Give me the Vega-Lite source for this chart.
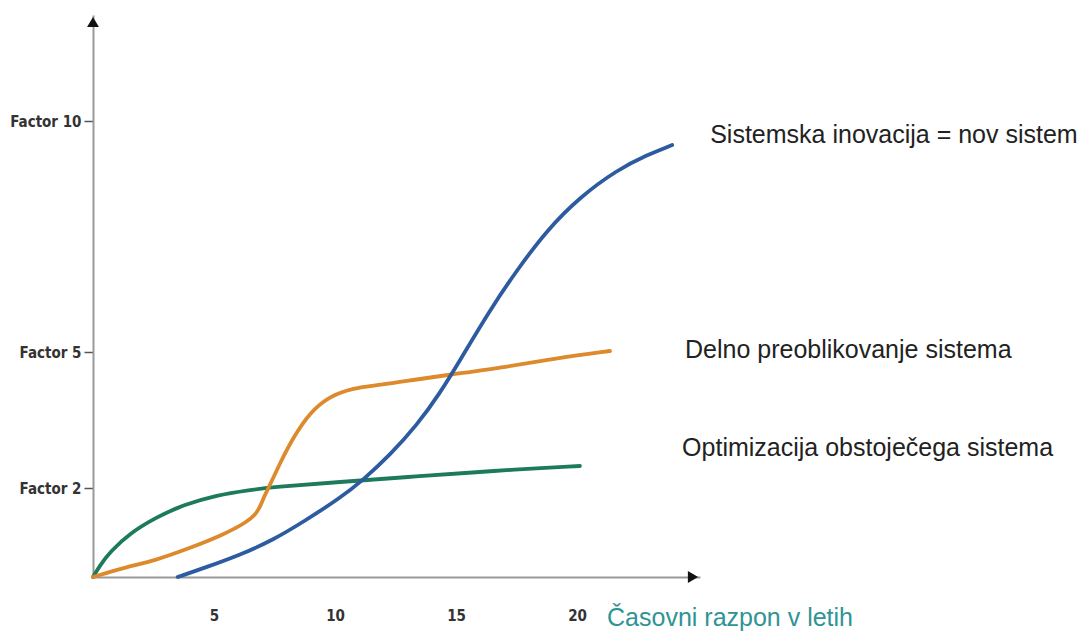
{
  "$schema": "https://vega.github.io/schema/vega-lite/v6.json",
  "width": 607,
  "height": 562,
  "autosize": {"type": "none"},
  "padding": {"left": 93, "top": 15, "right": 389, "bottom": 55},
  "background": "white",
  "config": {"view": {"stroke": null}},
  "datasets": {
    "curves": [
      {"series": "Optimizacija", "t": 0, "v": 0},
      {"series": "Optimizacija", "t": 0.3, "v": 12},
      {"series": "Optimizacija", "t": 0.7, "v": 25},
      {"series": "Optimizacija", "t": 1.53, "v": 44},
      {"series": "Optimizacija", "t": 2.64, "v": 60},
      {"series": "Optimizacija", "t": 3.72, "v": 72},
      {"series": "Optimizacija", "t": 5.12, "v": 82},
      {"series": "Optimizacija", "t": 6.49, "v": 87},
      {"series": "Optimizacija", "t": 7.44, "v": 90},
      {"series": "Optimizacija", "t": 10.21, "v": 95},
      {"series": "Optimizacija", "t": 12.98, "v": 100},
      {"series": "Optimizacija", "t": 15.99, "v": 105},
      {"series": "Optimizacija", "t": 17.11, "v": 107},
      {"series": "Optimizacija", "t": 20.12, "v": 111},
      {"series": "Delno", "t": 0, "v": 0},
      {"series": "Delno", "t": 1.24, "v": 9},
      {"series": "Delno", "t": 2.64, "v": 17},
      {"series": "Delno", "t": 4.01, "v": 29},
      {"series": "Delno", "t": 5.37, "v": 42},
      {"series": "Delno", "t": 6.36, "v": 55},
      {"series": "Delno", "t": 6.7, "v": 62},
      {"series": "Delno", "t": 6.9, "v": 70},
      {"series": "Delno", "t": 7.1, "v": 82},
      {"series": "Delno", "t": 7.31, "v": 92},
      {"series": "Delno", "t": 7.73, "v": 114},
      {"series": "Delno", "t": 8.26, "v": 139},
      {"series": "Delno", "t": 8.97, "v": 165},
      {"series": "Delno", "t": 9.79, "v": 181},
      {"series": "Delno", "t": 10.74, "v": 189},
      {"series": "Delno", "t": 11.86, "v": 192},
      {"series": "Delno", "t": 13.22, "v": 197},
      {"series": "Delno", "t": 14.63, "v": 202},
      {"series": "Delno", "t": 17.11, "v": 210},
      {"series": "Delno", "t": 19.17, "v": 219},
      {"series": "Delno", "t": 21.36, "v": 226},
      {"series": "Sistemska", "t": 3.5, "v": 0},
      {"series": "Sistemska", "t": 4.71, "v": 10},
      {"series": "Sistemska", "t": 6.07, "v": 22},
      {"series": "Sistemska", "t": 7.44, "v": 37},
      {"series": "Sistemska", "t": 8.68, "v": 55},
      {"series": "Sistemska", "t": 10.21, "v": 79},
      {"series": "Sistemska", "t": 11.16, "v": 97},
      {"series": "Sistemska", "t": 12.27, "v": 122},
      {"series": "Sistemska", "t": 13.39, "v": 152},
      {"series": "Sistemska", "t": 14.34, "v": 184},
      {"series": "Sistemska", "t": 15.17, "v": 217},
      {"series": "Sistemska", "t": 16.4, "v": 267},
      {"series": "Sistemska", "t": 17.52, "v": 307},
      {"series": "Sistemska", "t": 18.76, "v": 347},
      {"series": "Sistemska", "t": 20.12, "v": 380},
      {"series": "Sistemska", "t": 21.65, "v": 407},
      {"series": "Sistemska", "t": 22.89, "v": 422},
      {"series": "Sistemska", "t": 23.93, "v": 432}
    ],
    "labels": [
      {"label": "Sistemska inovacija = nov sistem", "t": 25.5, "v": 442},
      {"label": "Delno preoblikovanje sistema", "t": 24.46, "v": 227},
      {"label": "Optimizacija obstoječega sistema", "t": 24.34, "v": 129}
    ]
  },
  "layer": [
    {
      "data": {"name": "curves"},
      "mark": {"type": "line", "strokeWidth": 3.8, "interpolate": "basis", "strokeCap": "round"},
      "encoding": {
        "x": {
          "field": "t", "type": "quantitative",
          "scale": {"domain": [0, 25.08], "nice": false, "zero": false},
          "axis": {
            "values": [5, 10, 15, 20], "ticks": false, "grid": false, "title": null,
            "domainColor": "#999999", "domainWidth": 2,
            "labelFont": "DejaVu Sans Condensed",
            "labelFontWeight": "bold", "labelFontSize": 15, "labelColor": "#333333",
            "labelBaseline": "middle", "labelPadding": 38
          }
        },
        "y": {
          "field": "v", "type": "quantitative",
          "scale": {"domain": [0, 562], "nice": false, "zero": false},
          "axis": {
            "values": [89, 225, 456], "grid": false, "title": null,
            "labelExpr": "datum.value == 89 ? 'Factor 2' : datum.value == 225 ? 'Factor 5' : 'Factor 10'",
            "domainColor": "#999999", "domainWidth": 2,
            "tickColor": "#555555", "tickWidth": 1.5, "tickSize": 9,
            "labelFont": "DejaVu Sans Condensed",
            "labelFontWeight": "bold", "labelFontSize": 15, "labelColor": "#333333",
            "labelPadding": 3
          }
        },
        "color": {
          "field": "series", "type": "nominal", "legend": null,
          "scale": {"domain": ["Optimizacija", "Delno", "Sistemska"], "range": ["#1d7a5c", "#dc8a2c", "#2d5b9f"]}
        }
      }
    },
    {
      "data": {"values": [{"t": 0, "v": 555}]},
      "mark": {"type": "point", "shape": "triangle-up", "filled": true, "color": "#111111", "size": 140, "opacity": 1, "clip": false},
      "encoding": {"x": {"field": "t", "type": "quantitative"}, "y": {"field": "v", "type": "quantitative"}}
    },
    {
      "data": {"values": [{"t": 24.79, "v": 0}]},
      "mark": {"type": "point", "shape": "triangle-right", "filled": true, "color": "#111111", "size": 140, "opacity": 1, "clip": false},
      "encoding": {"x": {"field": "t", "type": "quantitative"}, "y": {"field": "v", "type": "quantitative"}}
    },
    {
      "data": {"name": "labels"},
      "mark": {"type": "text", "align": "left", "baseline": "middle", "font": "Liberation Sans", "fontSize": 25, "color": "#222222", "clip": false},
      "encoding": {
        "x": {"field": "t", "type": "quantitative"},
        "y": {"field": "v", "type": "quantitative"},
        "text": {"field": "label"}
      }
    },
    {
      "data": {"values": [{"label": "Časovni razpon v letih", "t": 21.24, "v": -41}]},
      "mark": {"type": "text", "align": "left", "baseline": "middle", "font": "Liberation Sans", "fontSize": 25, "color": "#2f9494", "clip": false},
      "encoding": {
        "x": {"field": "t", "type": "quantitative"},
        "y": {"field": "v", "type": "quantitative"},
        "text": {"field": "label"}
      }
    }
  ]
}
